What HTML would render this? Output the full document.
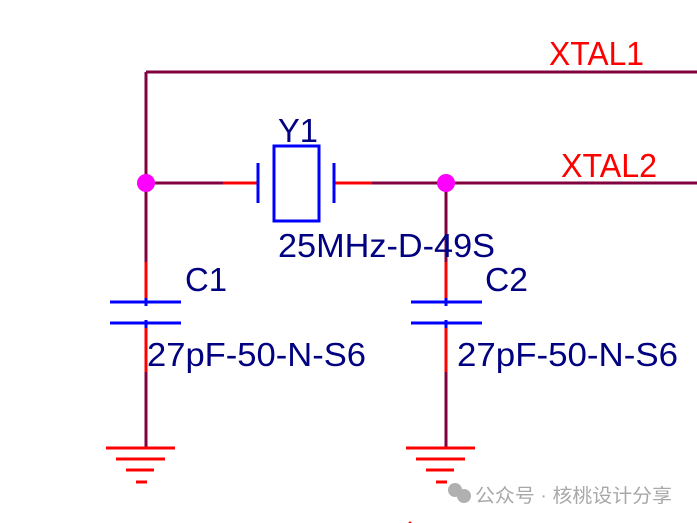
<!DOCTYPE html>
<html><head><meta charset="utf-8"><style>html,body{margin:0;padding:0;background:#fff}svg{display:block}</style></head>
<body>
<svg width="697" height="523" viewBox="0 0 697 523" xmlns="http://www.w3.org/2000/svg" font-family="Liberation Sans, sans-serif">
<g stroke="#800040" stroke-width="3" fill="none">
<path d="M146 72H697M146 72V262M146 372V448M146 183H223M372 183H697M446 183V262M446 372V448"/>
</g>
<g stroke="#ff0000" stroke-width="3" fill="none">
<path d="M223 183H258M334 183H372M146 262V302M146 323V372M446 262V302M446 323V372"/>
<path d="M106 448H175M116 459H165M126 470H154M136 482H147"/>
<path d="M406 448H475M416 459H465M426 470H454M436 482H447"/>
</g>
<g stroke="#0000ff" stroke-width="3" fill="none">
<path d="M258 163V203M334 163V203"/>
<rect x="274" y="146" width="45" height="75"/>
<path d="M110 302H181M110 323H181M146 298V306M146 320V328"/>
<path d="M411 302H482M411 323H482M446 298V306M446 320V328"/>
</g>
<circle cx="146" cy="183" r="9" fill="#ff00ff"/>
<circle cx="446" cy="183" r="9" fill="#ff00ff"/>
<g fill="#ff0000" font-size="33">
<text x="549" y="65" textLength="95" lengthAdjust="spacingAndGlyphs">XTAL1</text>
<text x="561" y="177" textLength="96" lengthAdjust="spacingAndGlyphs">XTAL2</text>
</g>
<g fill="#000080" font-size="33">
<text x="278" y="142" textLength="40" lengthAdjust="spacingAndGlyphs">Y1</text>
<text x="278" y="257" textLength="217" lengthAdjust="spacingAndGlyphs">25MHz-D-49S</text>
<text x="185" y="291" textLength="42" lengthAdjust="spacingAndGlyphs">C1</text>
<text x="485" y="291" textLength="43" lengthAdjust="spacingAndGlyphs">C2</text>
<text x="147" y="366" textLength="219" lengthAdjust="spacingAndGlyphs">27pF-50-N-S6</text>
<text x="457" y="366" textLength="221" lengthAdjust="spacingAndGlyphs">27pF-50-N-S6</text>
</g>
<g fill="#b0b0b0">
<circle cx="410" cy="523" r="1.5" fill="#ff0000"/>
<circle cx="406" cy="490" r="0" />
<circle cx="414" cy="489" r="0" />
<circle cx="455" cy="490" r="7"/><circle cx="464" cy="496" r="7"/>
<text x="475" y="502" font-size="19" font-family="Liberation Sans, Noto Sans CJK SC, sans-serif" fill="#a8a8a8" textLength="197" lengthAdjust="spacingAndGlyphs">公众号 · 核桃设计分享</text>
</g>
</svg>
</body></html>
